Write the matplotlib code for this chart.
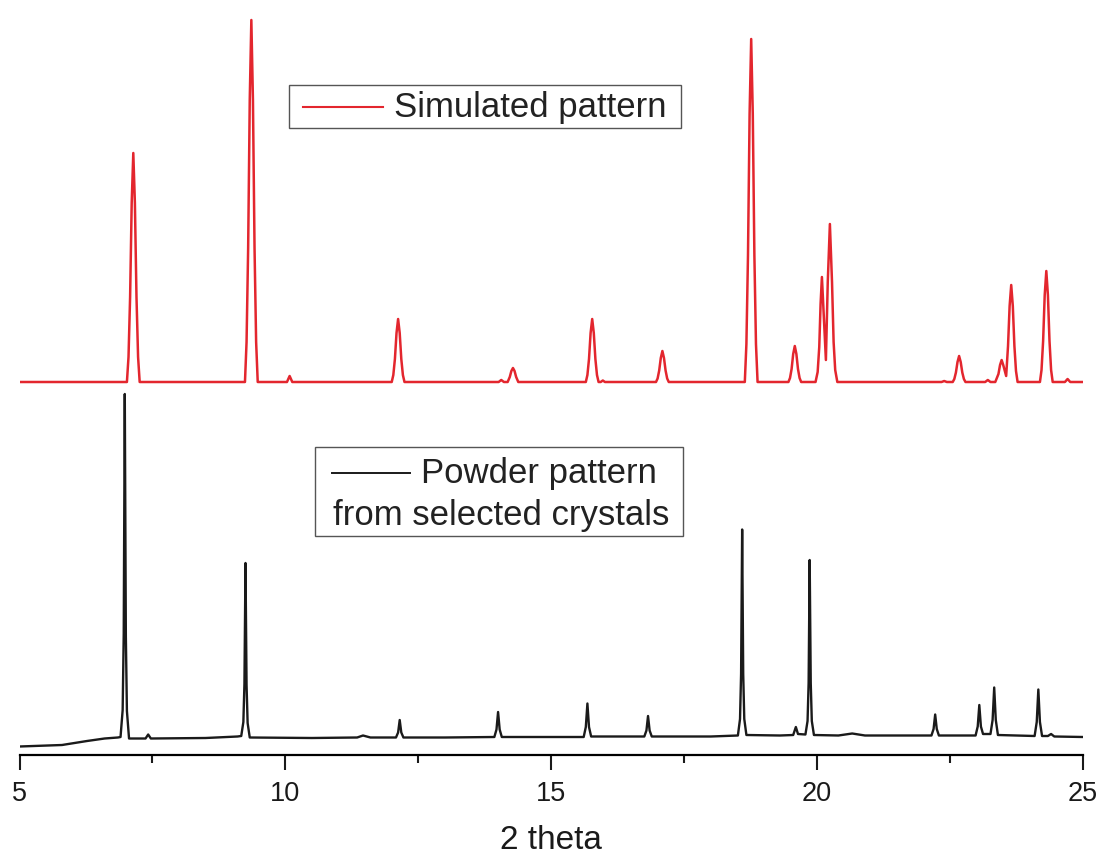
import matplotlib
matplotlib.use("Agg")
import matplotlib.pyplot as plt
from matplotlib.lines import Line2D
from matplotlib.patches import Rectangle

plt.rcParams['font.family'] = ['Liberation Sans', 'DejaVu Sans']

# simulated pattern: 2theta (deg) / intensity above its own baseline (a.u.)
sim_theta = [
    5.00,
    7.02, 7.05, 7.08, 7.11, 7.14, 7.17, 7.20, 7.23, 7.26,
    9.24, 9.27, 9.30, 9.33, 9.36, 9.39, 9.42, 9.45, 9.48,
    10.03, 10.08, 10.13,
    12.00, 12.03, 12.06, 12.09, 12.12, 12.15, 12.18, 12.21, 12.24,
    14.01, 14.06, 14.11,
    14.18, 14.22, 14.25, 14.28, 14.31, 14.34, 14.38,
    15.65, 15.68, 15.71, 15.74, 15.77, 15.80, 15.83, 15.86, 15.89,
    15.93, 15.97, 16.01,
    16.97, 17.00, 17.03, 17.06, 17.09, 17.12, 17.15, 17.18, 17.21,
    18.64, 18.67, 18.70, 18.73, 18.76, 18.79, 18.82, 18.85, 18.88,
    19.46, 19.49, 19.52, 19.55, 19.58, 19.61, 19.64, 19.67, 19.70,
    19.97, 20.01, 20.04, 20.065, 20.09, 20.115, 20.165, 20.20, 20.24, 20.28,
    20.31, 20.34, 20.38,
    22.34, 22.39, 22.44,
    22.55, 22.58, 22.61, 22.64, 22.67, 22.70, 22.73, 22.76, 22.79,
    23.16, 23.21, 23.26,
    23.35, 23.41, 23.44, 23.47, 23.50, 23.555, 23.59, 23.62, 23.65, 23.68,
    23.71, 23.74, 23.77,
    24.19, 24.22, 24.25, 24.28, 24.31, 24.34, 24.37, 24.40, 24.43,
    24.66, 24.71, 24.76,
    25.00,
]
sim_counts = [
    0,
    0, 25, 85, 179, 229, 179, 85, 25, 0,
    0, 40, 134, 282, 362, 282, 134, 40, 0,
    0, 6, 0,
    0, 7, 23, 49, 63, 49, 23, 7, 0,
    0, 2, 0,
    0, 5, 11, 14, 11, 5, 0,
    0, 7, 23, 49, 63, 49, 23, 7, 0,
    0, 1.5, 0,
    0, 3.5, 11.5, 24, 31, 24, 11.5, 3.5, 0,
    0, 38, 127, 268, 343, 268, 127, 38, 0,
    0, 4, 13, 28, 36, 28, 13, 4, 0,
    0, 10, 35, 78, 105, 78, 22, 100, 158, 100,
    40, 12, 0,
    0, 1, 0,
    0, 3, 9.5, 20, 26, 20, 9.5, 3, 0,
    0, 2, 0,
    0, 8, 17, 22, 17, 6, 36, 76, 97, 76,
    36, 11, 0,
    0, 12, 41, 87, 111, 87, 41, 12, 0,
    0, 3, 0,
    0,
]

# measured powder pattern: 2theta (deg) / intensity (a.u.)
powder_theta = [
    5.00, 5.80, 6.27, 6.60, 6.85,
    6.90, 6.94, 6.96, 6.98, 7.00, 7.02, 7.06,
    7.37, 7.42, 7.47,
    8.50, 9.10,
    9.17, 9.21, 9.23, 9.25, 9.27, 9.29, 9.33,
    10.50, 11.35, 11.46, 11.60,
    12.08, 12.12, 12.15, 12.18, 12.22,
    13.00, 13.93, 13.97, 14.00, 14.03, 14.07,
    15.00, 15.61, 15.65, 15.68, 15.71, 15.75,
    16.75, 16.79, 16.82, 16.85, 16.89,
    18.00, 18.51, 18.55, 18.57, 18.59, 18.61, 18.63, 18.67,
    19.30, 19.55, 19.60, 19.64,
    19.78, 19.82, 19.84, 19.86, 19.88, 19.90, 19.94,
    20.40, 20.66, 20.90, 21.50,
    22.15, 22.19, 22.22, 22.25, 22.29,
    22.98, 23.02, 23.05, 23.08, 23.12,
    23.26, 23.30, 23.33, 23.36, 23.40,
    24.09, 24.13, 24.16, 24.19, 24.23,
    24.34, 24.40, 24.46, 25.00,
]
powder_counts = [
    8.5, 10, 14, 16.5, 17.5,
    18, 45, 121, 361, 119, 44, 16.5,
    16.5, 20.5, 16.5,
    17, 18.5,
    19, 33, 71, 192, 70, 32, 17.5,
    17, 17.5, 19.5, 17.5,
    17.5, 22.5, 35, 22.5, 17.5,
    17.5, 18, 25.5, 43, 25.5, 18,
    18, 18, 28, 51.5, 28, 18.5,
    18.5, 24.5, 39, 24.5, 18.5,
    18.5, 19.5, 36, 81, 225.5, 81, 36, 20,
    19.5, 20, 28, 21,
    20.5, 34, 72, 195, 72, 34, 20,
    19.5, 21.5, 19.5, 19.5,
    19.5, 26, 40.5, 26, 19.5,
    19.5, 28.5, 50, 28.5, 21,
    21, 35, 67.5, 35, 20,
    19, 33, 65.5, 33, 19,
    19, 21, 18.5, 18,
]

SIM_OFFSET = 373
RED = '#e3262e'
W, H = 1101, 863

fig = plt.figure(figsize=(W / 100, H / 100), dpi=100)
ax = fig.add_axes([19.5 / W, 1 - 755 / H, (1083 - 19.5) / W, 755 / H])

ax.plot(powder_theta, powder_counts, color='#1a1a1a', lw=1.7)
ax.plot(sim_theta, [c + SIM_OFFSET for c in sim_counts], color=RED, lw=1.8)

ax.set_xlim(5, 25)
ax.set_ylim(0, 755)
for s in ['left', 'right', 'top']:
    ax.spines[s].set_visible(False)
ax.spines['bottom'].set_linewidth(1.6)
ax.set_yticks([])
ax.set_xticks([5, 10, 15, 20, 25])
ax.set_xticks([7.5, 12.5, 17.5, 22.5], minor=True)
ax.tick_params(axis='x', which='major', direction='out', length=11, width=1.5,
               labelsize=19.5, pad=8, colors='#1a1a1a')
ax.tick_params(axis='x', which='minor', direction='out', length=6, width=1.5,
               colors='#1a1a1a')
ax.set_xlabel('2 theta', fontsize=24, labelpad=13, color='#1a1a1a')
ax.patch.set_alpha(0)


def fx(px):
    return px / W


def fy(py):
    return 1 - py / H


def legend_box(x0, y0, x1, y1):
    fig.add_artist(Rectangle((fx(x0), fy(y1)), fx(x1) - fx(x0), fy(y0) - fy(y1),
                             transform=fig.transFigure, fill=False,
                             edgecolor='#555555', lw=1.0))


# legend: simulated
legend_box(289, 85, 681, 128)
fig.add_artist(Line2D([fx(303), fx(383)], [fy(107), fy(107)], color=RED, lw=1.5,
                      transform=fig.transFigure))
fig.text(fx(394), fy(107), 'Simulated pattern', fontsize=25, va='center',
         ha='left', color='#222222')

# legend: powder
legend_box(315, 447, 683, 536)
fig.add_artist(Line2D([fx(332), fx(410)], [fy(473), fy(473)], color='#1a1a1a',
                      lw=1.4, transform=fig.transFigure))
fig.text(fx(421), fy(473), 'Powder pattern', fontsize=25, va='center',
         ha='left', color='#222222')
fig.text(fx(333), fy(516), 'from selected crystals', fontsize=25, va='center',
         ha='left', color='#222222')

fig.savefig('out.png', dpi=100, facecolor='white')
